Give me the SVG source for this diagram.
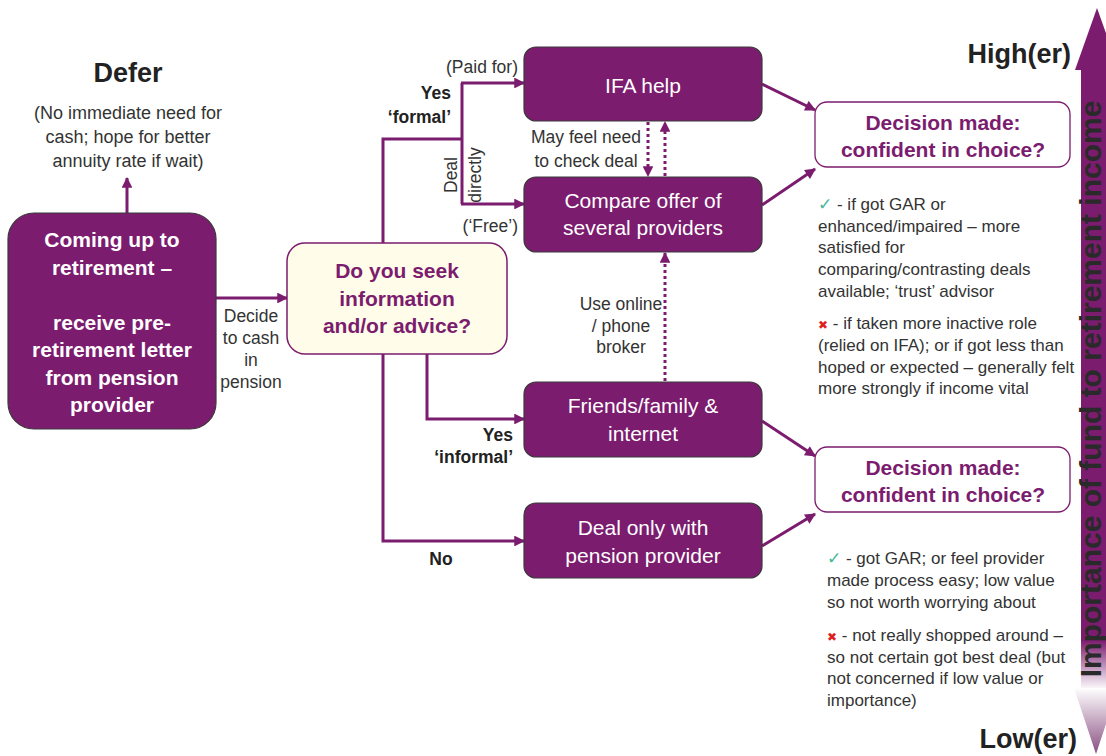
<svg xmlns="http://www.w3.org/2000/svg" width="1106" height="756" viewBox="0 0 1106 756">
<style>
text{font-family:"Liberation Sans",Arial,sans-serif;}
.box{fill:#7B1C6E;stroke:#3a3a3a;stroke-width:1.2;}
.q{fill:#FFFDE9;stroke:#7B1C6E;stroke-width:1.5;}
.dec{fill:#fff;stroke:#7B1C6E;stroke-width:1.3;}
.wt{fill:#fff;font-size:21px;text-anchor:middle;}
.wb{fill:#fff;font-size:21px;font-weight:bold;text-anchor:middle;}
.pb{fill:#7B1C6E;font-size:21px;font-weight:bold;text-anchor:middle;}
.lbl{fill:#333;font-size:17.5px;}
.lb{fill:#222;font-size:17.5px;font-weight:bold;}
.body{fill:#333;font-size:17px;}
.big{fill:#222;font-size:27px;font-weight:bold;}
.ln{fill:none;stroke:#7B1C6E;stroke-width:3;}
.dot{fill:none;stroke:#7B1C6E;stroke-width:3;stroke-dasharray:3 3;}
.ck{fill:#45B89A;font-family:"DejaVu Sans",sans-serif;font-size:17px;}
.x{fill:#E0201E;font-family:"DejaVu Sans",sans-serif;font-size:12px;}
</style>
<defs>
<marker id="ah" viewBox="0 0 10 10" refX="9" refY="5" markerWidth="4" markerHeight="3.6" orient="auto">
<path d="M0,0 L10,5 L0,10 z" fill="#7B1C6E"/>
</marker>
<linearGradient id="shaft" x1="0" y1="0" x2="0" y2="1">
<stop offset="0" stop-color="#7B1C6E"/>
<stop offset="0.92" stop-color="#7B1C6E"/>
<stop offset="1" stop-color="#ffffff"/>
</linearGradient>
<linearGradient id="low" x1="0" y1="0" x2="0" y2="1">
<stop offset="0" stop-color="#ffffff"/>
<stop offset="1" stop-color="#8A4F82"/>
</linearGradient>
</defs>

<!-- importance axis -->
<g id="axis">
<rect x="1081" y="68" width="32" height="622" fill="url(#shaft)"/>
<polygon points="1075,70 1097,8 1119,70" fill="#7B1C6E"/>
<polygon points="1074,688 1118,688 1096,754" fill="url(#low)"/>
<text transform="translate(1101,389) rotate(-90)" text-anchor="middle" style="font-size:30px;font-weight:bold;fill:#2a2a2a">Importance of fund to retirement income</text>
<text class="big" x="1071" y="63" text-anchor="end">High(er)</text>
<text class="big" x="1077" y="748" text-anchor="end">Low(er)</text>
</g>

<g id="connectors">
<line class="ln" x1="127" y1="213" x2="127" y2="178" marker-end="url(#ah)"/>
<line class="ln" x1="216" y1="298" x2="287" y2="298" marker-end="url(#ah)"/>
<polyline class="ln" points="383,243 383,139 462,139"/>
<line class="ln" x1="462" y1="83" x2="462" y2="204"/>
<line class="ln" x1="461" y1="83" x2="524" y2="83" marker-end="url(#ah)"/>
<line class="ln" x1="461" y1="204" x2="524" y2="204" marker-end="url(#ah)"/>
<polyline class="ln" points="383,354 383,541 524,541" marker-end="url(#ah)"/>
<polyline class="ln" points="427,354 427,419 524,419" marker-end="url(#ah)"/>
<line class="dot" x1="648" y1="122" x2="648" y2="176" marker-end="url(#ah)"/>
<line class="dot" x1="665" y1="176" x2="665" y2="122" marker-end="url(#ah)"/>
<line class="dot" x1="665" y1="381" x2="665" y2="253" marker-end="url(#ah)"/>
<line class="ln" x1="762" y1="84" x2="815" y2="110" marker-end="url(#ah)"/>
<line class="ln" x1="762" y1="205" x2="815" y2="169" marker-end="url(#ah)"/>
<line class="ln" x1="762" y1="421" x2="815" y2="456" marker-end="url(#ah)"/>
<line class="ln" x1="762" y1="546" x2="815" y2="514" marker-end="url(#ah)"/>
</g>

<g id="labels">
<text class="lbl" text-anchor="middle"><tspan x="251" y="322">Decide</tspan><tspan x="251" y="344">to cash</tspan><tspan x="251" y="366">in</tspan><tspan x="251" y="388">pension</tspan></text>
<text class="lbl" x="518" y="73" text-anchor="end">(Paid for)</text>
<text class="lb" text-anchor="end"><tspan x="451" y="99">Yes</tspan><tspan x="451" y="123">‘formal’</tspan></text>
<text class="lbl" transform="translate(457,175) rotate(-90)" text-anchor="middle">Deal</text>
<text class="lbl" transform="translate(481,175) rotate(-90)" text-anchor="middle">directly</text>
<text class="lbl" x="518" y="232" text-anchor="end">(‘Free’)</text>
<text class="lbl" text-anchor="middle"><tspan x="586" y="143">May feel need</tspan><tspan x="586" y="167">to check deal</tspan></text>
<text class="lbl" text-anchor="middle"><tspan x="621" y="310">Use online</tspan><tspan x="621" y="332">/ phone</tspan><tspan x="621" y="353">broker</tspan></text>
<text class="lb" text-anchor="end"><tspan x="513" y="441">Yes</tspan><tspan x="513" y="463">‘informal’</tspan></text>
<text class="lb" x="441" y="565" text-anchor="middle">No</text>
</g>

<g id="defer">
<text class="big" x="128" y="82" text-anchor="middle">Defer</text>
<text class="lbl" text-anchor="middle" style="font-size:18px"><tspan x="128" y="119">(No immediate need for</tspan><tspan x="128" y="143">cash; hope for better</tspan><tspan x="128" y="167">annuity rate if wait)</tspan></text>
</g>

<g id="start">
<rect class="box" x="8" y="213" width="208" height="216" rx="26"/>
<text class="wb"><tspan x="112" y="247">Coming up to</tspan><tspan x="112" y="275">retirement –</tspan><tspan x="112" y="330">receive pre-</tspan><tspan x="112" y="357">retirement letter</tspan><tspan x="112" y="385">from pension</tspan><tspan x="112" y="412">provider</tspan></text>
</g>

<g id="question">
<rect class="q" x="287" y="243" width="220" height="111" rx="18"/>
<text class="pb"><tspan x="397" y="278">Do you seek</tspan><tspan x="397" y="306">information</tspan><tspan x="397" y="333">and/or advice?</tspan></text>
</g>

<g id="ifa">
<rect class="box" x="524" y="47" width="238" height="74" rx="12"/>
<text class="wt" x="643" y="93">IFA help</text>
</g>
<g id="compare">
<rect class="box" x="524" y="177" width="238" height="75" rx="12"/>
<text class="wt"><tspan x="643" y="208">Compare offer of</tspan><tspan x="643" y="235">several providers</tspan></text>
</g>
<g id="friends">
<rect class="box" x="524" y="382" width="238" height="75" rx="12"/>
<text class="wt"><tspan x="643" y="413">Friends/family &amp;</tspan><tspan x="643" y="441">internet</tspan></text>
</g>
<g id="dealonly">
<rect class="box" x="524" y="503" width="238" height="75" rx="12"/>
<text class="wt"><tspan x="643" y="535">Deal only with</tspan><tspan x="643" y="563">pension provider</tspan></text>
</g>

<g id="decision1">
<rect class="dec" x="815" y="102" width="255" height="65" rx="12"/>
<text class="pb"><tspan x="943" y="130">Decision made:</tspan><tspan x="943" y="157">confident in choice?</tspan></text>
</g>
<g id="decision2">
<rect class="dec" x="815" y="447" width="255" height="65" rx="12"/>
<text class="pb"><tspan x="943" y="475">Decision made:</tspan><tspan x="943" y="502">confident in choice?</tspan></text>
</g>

<g id="notes1">
<text class="body"><tspan x="818" y="210"><tspan class="ck">✓</tspan> - if got GAR or</tspan><tspan x="818" y="232">enhanced/impaired – more</tspan><tspan x="818" y="253">satisfied for</tspan><tspan x="818" y="275">comparing/contrasting deals</tspan><tspan x="818" y="297">available; ‘trust’ advisor</tspan></text>
<text class="body"><tspan x="818" y="329"><tspan class="x">✖</tspan> - if taken more inactive role</tspan><tspan x="818" y="351">(relied on IFA); or if got less than</tspan><tspan x="818" y="373">hoped or expected – generally felt</tspan><tspan x="818" y="394">more strongly if income vital</tspan></text>
</g>
<g id="notes2">
<text class="body"><tspan x="827" y="564"><tspan class="ck">✓</tspan> - got GAR; or feel provider</tspan><tspan x="827" y="586">made process easy; low value</tspan><tspan x="827" y="608">so not worth worrying about</tspan></text>
<text class="body"><tspan x="827" y="641"><tspan class="x">✖</tspan> - not really shopped around –</tspan><tspan x="827" y="663">so not certain got best deal (but</tspan><tspan x="827" y="684">not concerned if low value or</tspan><tspan x="827" y="706">importance)</tspan></text>
</g>
</svg>
